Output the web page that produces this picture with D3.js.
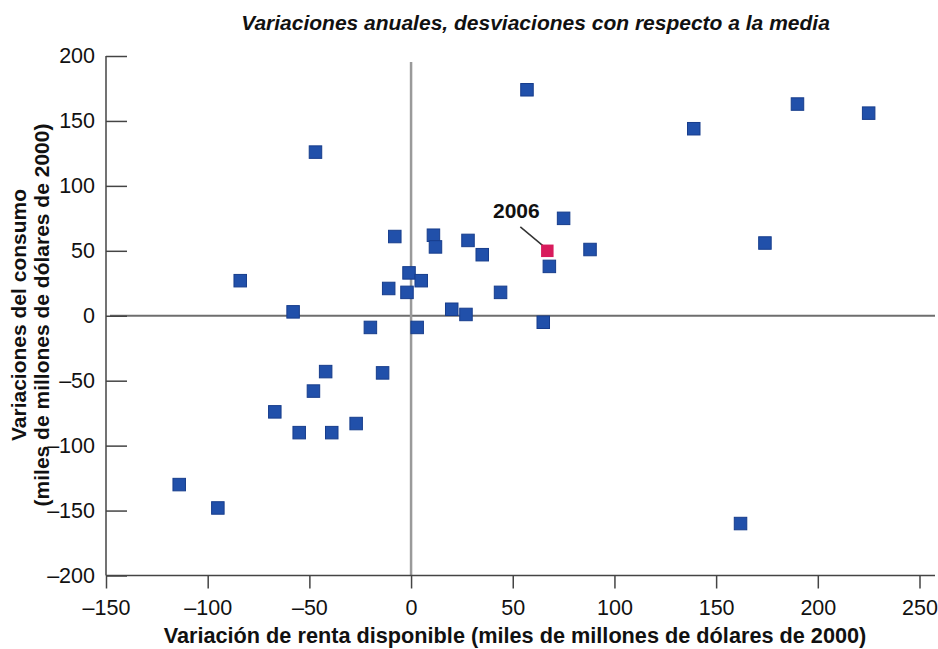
<!DOCTYPE html>
<html>
<head>
<meta charset="utf-8">
<script src="https://cdn.jsdelivr.net/npm/d3@7"></script>
<style>
  html, body { margin: 0; padding: 0; background: #fff; }
  svg { display: block; font-family: "Liberation Sans", Arial, Helvetica, sans-serif; }
</style>
</head>
<body>
<svg id="chart" width="938" height="649"></svg>
<script>
// ---- Data ----
const title = "Variaciones anuales, desviaciones con respecto a la media";
const xLabel = "Variación de renta disponible (miles de millones de dólares de 2000)";
const yLabelLines = ["Variaciones del consumo", "(miles de millones de dólares de 2000)"];

const xTicks = [-150, -100, -50, 0, 50, 100, 150, 200, 250];
const yTicks = [-200, -150, -100, -50, 0, 50, 100, 150, 200];

// Annual deviations: x = disposable income change, y = consumption change
const incomeChange = [57, 139, 190, 225, -47, 75, 88, 68, 174, 44, 65, 28, 35, 27,
  -84, -58, -8, 11, 12, -1, 5, -11, -2, 20, -20, 3, -42, -14, -48, -67, -55, -39, -27,
  -114, -95, 162];
const consumptionChange = [174, 144, 163, 156, 126, 75, 51, 38, 56, 18, -5, 58, 47, 1,
  27, 3, 61, 62, 53, 33, 27, 21, 18, 5, -9, -9, -43, -44, -58, -74, -90, -90, -83,
  -130, -148, -160];

const highlightLabel = "2006";
const highlightX = [67];
const highlightY = [50];

// ---- Layout ----
const svg = d3.select("#chart");
const x = d3.scaleLinear().domain([-150, 250]).range([106, 919.5]);
const y = d3.scaleLinear().domain([-200, 200]).range([575.5, 56]);
const axisColor = "#444";
const fs = 21;

// Title
svg.append("text")
  .attr("x", 535.5).attr("y", 30)
  .attr("text-anchor", "middle")
  .attr("font-size", fs).attr("font-weight", "bold").attr("font-style", "italic")
  .attr("fill", "#111")
  .text(title);

// Zero reference lines
svg.append("line")
  .attr("x1", 110).attr("x2", 935)
  .attr("y1", y(0)).attr("y2", y(0))
  .attr("stroke", "#6e6e6e").attr("stroke-width", 2);
svg.append("line")
  .attr("x1", x(0)).attr("x2", x(0))
  .attr("y1", 62).attr("y2", y(-200))
  .attr("stroke", "#9a9a9a").attr("stroke-width", 2.5);

// Y axis (ticks pointing inside)
const yAxis = d3.axisRight(y).tickValues(yTicks).tickSize(21)
  .tickFormat(d => d < 0 ? "\u2013" + Math.abs(d) : d);
const gy = svg.append("g").attr("transform", `translate(${x(-150)},0)`).call(yAxis);
gy.select(".domain").remove();
gy.selectAll(".tick line").attr("stroke", axisColor).attr("stroke-width", 1.5);
gy.selectAll(".tick text")
  .attr("x", -11).attr("text-anchor", "end")
  .attr("font-size", 21.5).attr("fill", "#111")
  .attr("font-family", "Liberation Sans, Arial, sans-serif");
svg.append("line")
  .attr("x1", x(-150)).attr("x2", x(-150))
  .attr("y1", y(200)).attr("y2", y(-200))
  .attr("stroke", axisColor).attr("stroke-width", 1.5);

// X axis
const xAxis = d3.axisBottom(x).tickValues(xTicks).tickSize(13)
  .tickFormat(d => d < 0 ? "\u2013" + Math.abs(d) : d);
const gx = svg.append("g").attr("transform", `translate(0,${y(-200)})`).call(xAxis);
gx.select(".domain").remove();
gx.selectAll(".tick line").attr("stroke", axisColor).attr("stroke-width", 1.5);
gx.selectAll(".tick text")
  .attr("y", 24.5)
  .attr("font-size", 21.5).attr("fill", "#111")
  .attr("font-family", "Liberation Sans, Arial, sans-serif");
svg.append("line")
  .attr("x1", x(-150)).attr("x2", 935)
  .attr("y1", y(-200)).attr("y2", y(-200))
  .attr("stroke", axisColor).attr("stroke-width", 1.5);

// Axis titles
svg.append("text")
  .attr("x", 515).attr("y", 643)
  .attr("text-anchor", "middle")
  .attr("font-size", 21.7).attr("font-weight", "bold").attr("fill", "#111")
  .text(xLabel);

const yl = svg.append("text")
  .attr("transform", "translate(26,315) rotate(-90)")
  .attr("text-anchor", "middle")
  .attr("font-size", fs).attr("font-weight", "bold").attr("fill", "#111");
yl.selectAll("tspan").data(yLabelLines).join("tspan")
  .attr("x", 0).attr("dy", (d, i) => i === 0 ? 0 : 22.5)
  .text(d => d);

// Points
const sz = 12.5;
const pts = incomeChange.map((v, i) => ({ x: v, y: consumptionChange[i] }));
svg.append("g").selectAll("rect").data(pts).join("rect")
  .attr("x", d => x(d.x) - sz / 2).attr("y", d => y(d.y) - sz / 2)
  .attr("width", sz).attr("height", sz)
  .attr("fill", "#2150aa").attr("stroke", "#173d8c").attr("stroke-width", 1);

// Highlight 2006
const hp = highlightX.map((v, i) => ({ x: v, y: highlightY[i] }));
const hx = x(hp[0].x), hy = y(hp[0].y);
svg.append("line")
  .attr("x1", hx - 27).attr("y1", hy - 24)
  .attr("x2", hx - 3).attr("y2", hy - 4)
  .attr("stroke", "#333").attr("stroke-width", 1.5);
svg.append("g").selectAll("rect").data(hp).join("rect")
  .attr("x", d => x(d.x) - sz / 2).attr("y", d => y(d.y) - sz / 2)
  .attr("width", sz).attr("height", sz)
  .attr("fill", "#d81b5c");
svg.append("text")
  .attr("x", hx - 31).attr("y", hy - 33)
  .attr("text-anchor", "middle")
  .attr("font-size", fs).attr("font-weight", "bold").attr("fill", "#111")
  .text(highlightLabel);
</script>
</body>
</html>
